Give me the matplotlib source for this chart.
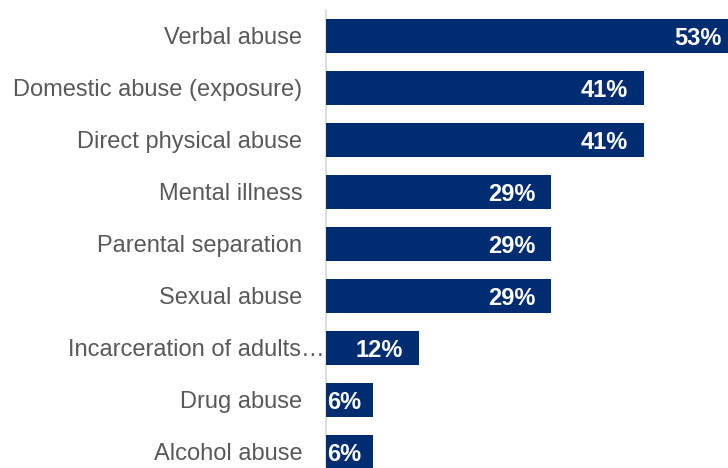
import matplotlib
matplotlib.use('Agg')
import matplotlib.pyplot as plt
from matplotlib.transforms import ScaledTranslation

categories = ['Verbal abuse', 'Domestic abuse (exposure)', 'Direct physical abuse',
              'Mental illness', 'Parental separation', 'Sexual abuse',
              'Incarceration of adults\u2026', 'Drug abuse', 'Alcohol abuse']
values = [53, 41, 41, 29, 29, 29, 12, 6, 6]

bar_color = '#002D72'
label_color = '#595959'

plt.rcParams['font.family'] = ['Liberation Sans', 'DejaVu Sans']

fig = plt.figure(figsize=(7.28, 4.68), dpi=100)
ax = fig.add_axes([326 / 728, 0, 402 / 728, 458 / 468])

pos = list(range(len(categories)))
ax.barh(pos, values, height=0.65, color=bar_color)

for p, v in zip(pos, values):
    if v > 8:
        ax.text(v - 2.05, p, f'{v}%', ha='right', va='center_baseline', color='white',
                fontsize=17, fontweight='bold')
    else:
        ax.text(0.2, p, f'{v}%', ha='left', va='center_baseline', color='white',
                fontsize=17, fontweight='bold')

ax.set_xlim(0, 51.8)
ax.set_ylim(8.31, -0.5)
ax.set_yticks(pos)
ax.set_yticklabels(categories, fontsize=17, color=label_color, va='center_baseline')
ax.tick_params(axis='y', length=0, pad=17)
ax.set_xticks([])

# the truncated label sits closer to the axis in the original
lab = ax.get_yticklabels()[6]
lab.set_transform(lab.get_transform() + ScaledTranslation(0.22, 0, fig.dpi_scale_trans))

for s in ['top', 'right', 'bottom']:
    ax.spines[s].set_visible(False)
ax.spines['left'].set_color('#d9d9d9')
ax.spines['left'].set_linewidth(1.2)
ax.spines['left'].set_zorder(0)

fig.savefig('out.png', dpi=100)
